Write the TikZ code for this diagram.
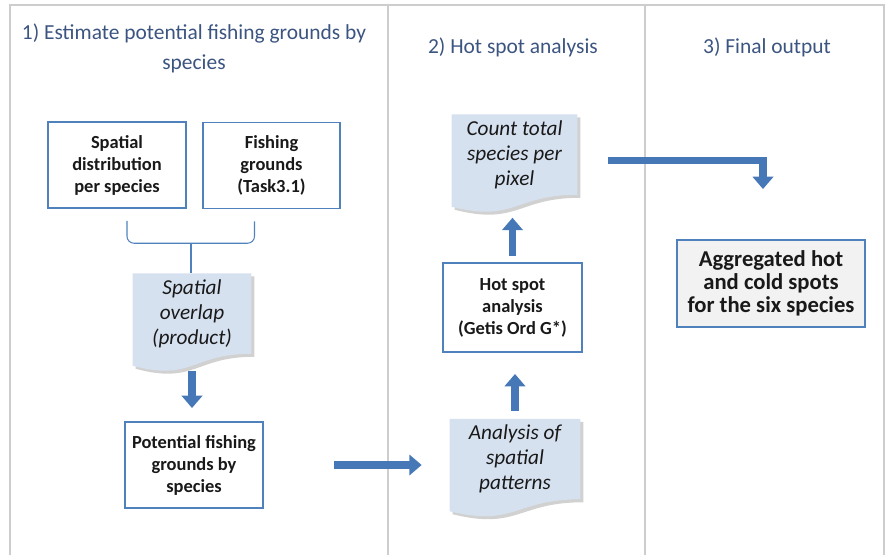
\documentclass[tikz,border=0pt]{standalone}
\usepackage{fontspec}
\setmainfont{Carlito}
\usetikzlibrary{arrows.meta, calc, backgrounds}
\definecolor{boxblue}{RGB}{79,129,189}
\definecolor{arrowblue}{RGB}{70,120,184}
\definecolor{docblue}{RGB}{214,225,240}
\definecolor{titleblue}{RGB}{59,84,128}
\definecolor{panelgray}{RGB}{205,205,205}
\def\px{0.02cm}
\tikzstyle{block}=[draw=boxblue,line width=1.1pt,fill=white,rectangle,align=center,text=black!90,font=\bfseries\fontsize{10.5}{12.5}\selectfont]
\tikzstyle{paper}=[rectangle,align=center,text=black!90,font=\itshape\fontsize{12.1}{14.2}\selectfont]
\tikzstyle{heading}=[align=center,text=titleblue,font=\fontsize{12.2}{17}\selectfont]
\tikzstyle{fat}=[draw=arrowblue,line width=4.5pt,line join=miter,-{Triangle[length=7pt,width=11.5pt]}]
\tikzstyle{brace}=[draw=boxblue,line width=0.6pt,rounded corners=4pt]
\newcommand{\paperback}[1]{%
  \fill[black!18] ([shift={(3,3)}]#1.north west) -- ([shift={(3,3)}]#1.north east) -- ([shift={(3,3)}]#1.south east)
    .. controls ([shift={(3,3)}]#1.south) and ($(#1.south)+(3,31)$) .. ($(#1.south west)+(3,15)$) -- cycle;
  \fill[docblue] (#1.north west) -- (#1.north east) -- (#1.south east)
    .. controls (#1.south) and ($(#1.south)+(0,28)$) .. ($(#1.south west)+(0,12)$) -- cycle;
}

\begin{document}
\begin{tikzpicture}[x=0.02cm,y=-0.02cm]
  \useasboundingbox (0,0) rectangle (889,555);
  \draw[panelgray, line width=1.1pt] (10,555) -- (10,5) -- (884,5) -- (884,555);
  \draw[panelgray, line width=1.1pt] (388,5) -- (388,555);
  \draw[panelgray, line width=1.1pt] (645,5) -- (645,555);

  \node[heading] (title1) at (194,48) {1) Estimate potential fishing grounds by\\species};
  \node[heading] (title2) at (513,47) {2) Hot spot analysis};
  \node[heading] (title3) at (767,47) {3) Final output};

  \node[block, minimum width=138*\px, minimum height=86*\px] (spatial) at (117,165) {Spatial\\distribution\\per species};
  \node[block, minimum width=137*\px, minimum height=86*\px] (fishing) at (271.5,165.5) {Fishing\\grounds\\(Task3.1)};
  \node[paper, minimum width=118*\px, minimum height=73*\px] (overlap) at (192,313.5) {Spatial\\overlap\\(product)};
  \node[block, minimum width=138*\px, minimum height=86*\px] (potential) at (194,465) {Potential fishing\\grounds by\\species};
  \node[paper, minimum width=130*\px, minimum height=72*\px] (analysis) at (515,459) {Analysis of\\spatial\\patterns};
  \node[block, minimum width=139*\px, minimum height=89*\px] (hotspot) at (512.5,307.5) {Hot spot\\analysis\\(Getis Ord G*)};
  \node[paper, minimum width=125*\px, minimum height=75*\px] (count) at (514.5,154.5) {Count total\\species per\\pixel};
  \node[block, fill=black!5, minimum width=188*\px, minimum height=87*\px, font=\bfseries\fontsize{12.9}{13.2}\selectfont] (aggregated) at (771,283.5) {Aggregated hot\\and cold spots\\for the six species};

  \begin{scope}[on background layer]
    \paperback{overlap}
    \paperback{analysis}
    \paperback{count}
  \end{scope}

  \coordinate (braceL) at ($(spatial.south)+(10,12)$);
  \coordinate (braceR) at ($(fishing.south)+(-17,12)$);
  \coordinate (braceM) at ($(overlap.north)+(-1,-30)$);
  \draw[brace] (braceL) |- (braceM) -| (braceR);
  \draw[brace] (braceM) -- (braceM |- overlap.north);

  \draw[fat, shorten <=17*\px, shorten >=13*\px] (overlap.south) -- (overlap.south |- potential.north);
  \draw[fat, shorten <=70*\px, shorten >=28*\px] (potential.east) -- (potential.east -| analysis.west);
  \draw[fat, shorten <=8*\px, shorten >=21*\px] (analysis.north) -- (analysis.north |- hotspot.south);
  \draw[fat, shorten <=6*\px, shorten >=23*\px] (hotspot.north) -- (hotspot.north |- count.south);
  \draw[fat, shorten <=31*\px, shorten >=50*\px] ([shift={(0,6)}]count.east) -| ([shift={(-8,0)}]aggregated.north);
\end{tikzpicture}
\end{document}
